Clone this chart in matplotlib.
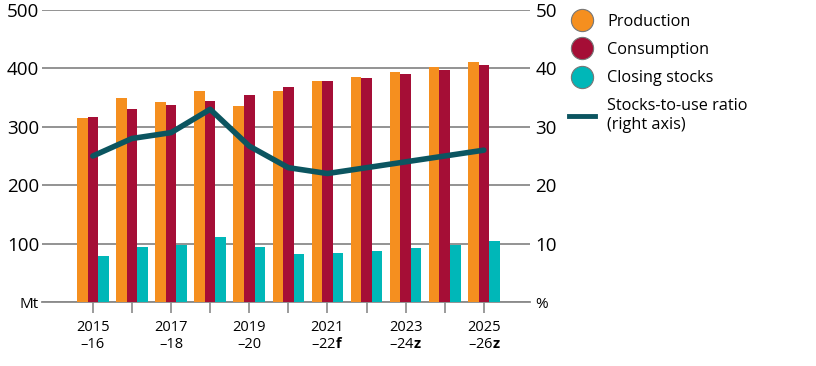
import matplotlib
matplotlib.use("Agg")
import matplotlib.pyplot as plt
from matplotlib.lines import Line2D
import numpy as np

plt.rcParams['font.family'] = ['Open Sans', 'DejaVu Sans']
plt.rcParams['mathtext.fontset'] = 'custom'
plt.rcParams['mathtext.rm'] = 'Open Sans'
plt.rcParams['mathtext.bf'] = 'Open Sans:bold'

# data
years = ['2015\n–16', '2016\n–17', '2017\n–18', '2018\n–19', '2019\n–20', '2020\n–21',
         '2021\n–22$\\mathbf{f}$', '2022\n–23$\\mathbf{z}$', '2023\n–24$\\mathbf{z}$',
         '2024\n–25$\\mathbf{z}$', '2025\n–26$\\mathbf{z}$']
production = [315, 349, 342, 361, 336, 361, 379, 386, 394, 402, 411]
consumption = [316, 331, 338, 344, 354, 369, 378, 383, 390, 397, 405]
closing_stocks = [78, 94, 98, 112, 95, 83, 84, 88, 92, 97, 104]
stocks_to_use = [25, 28, 29, 33, 26.7, 23, 22, 23, 24, 25, 26]

c_prod = '#F58F1F'
c_cons = '#A50E36'
c_stock = '#00B7B8'
c_line = '#0B5560'
c_grid = '#8a8a8a'

fig = plt.figure(figsize=(8.16, 3.66), dpi=100)
ax = fig.add_axes([42 / 816, 64 / 366, 488 / 816, 292 / 366])
ax2 = ax.twinx()

x = np.arange(len(years))
w = 0.27
ax.bar(x - w, production, w, color=c_prod, zorder=3)
ax.bar(x, consumption, w, color=c_cons, zorder=3)
ax.bar(x + w, closing_stocks, w, color=c_stock, zorder=3)

ax.set_ylim(0, 500)
ax.set_xlim(-1.3, 11.18)
ax.set_yticks([0, 100, 200, 300, 400, 500])
ax.set_yticklabels(['Mt', '100', '200', '300', '400', '500'])
ax.yaxis.grid(True, color=c_grid, linewidth=1.3, zorder=0)
ax.set_axisbelow(True)
ax.tick_params(axis='y', length=0, labelsize=13.5, pad=2)
ax.get_yticklabels()[0].set_fontsize(11)

ax.set_xticks(x)
ax.set_xticklabels([y if i % 2 == 0 else '' for i, y in enumerate(years)],
                   fontsize=10.5, linespacing=1.15)
ax.tick_params(axis='x', length=8, color=c_grid, width=1.2, pad=5)
for s in ['top', 'left', 'right']:
    ax.spines[s].set_visible(False)
ax.spines['bottom'].set_color(c_grid)
ax.spines['bottom'].set_linewidth(1.3)

ax2.plot(x, stocks_to_use, color=c_line, linewidth=4, solid_capstyle='round',
         solid_joinstyle='round', zorder=5)
ax2.set_ylim(0, 50)
ax2.set_yticks([0, 10, 20, 30, 40, 50])
ax2.set_yticklabels(['%', '10', '20', '30', '40', '50'])
ax2.tick_params(axis='y', length=0, labelsize=13.5, pad=4)
ax2.get_yticklabels()[0].set_fontsize(11)
for s in ax2.spines.values():
    s.set_visible(False)

handles = [
    Line2D([], [], marker='o', linestyle='none', markersize=16,
           markerfacecolor=c_prod, markeredgecolor='#777777', markeredgewidth=0.8),
    Line2D([], [], marker='o', linestyle='none', markersize=16,
           markerfacecolor=c_cons, markeredgecolor='#777777', markeredgewidth=0.8),
    Line2D([], [], marker='o', linestyle='none', markersize=16,
           markerfacecolor=c_stock, markeredgecolor='#777777', markeredgewidth=0.8),
    Line2D([], [], color=c_line, linewidth=3.5),
]
labels = ['Production', 'Consumption', 'Closing stocks', 'Stocks-to-use ratio\n(right axis)']
fig.legend(handles, labels, loc='upper left', bbox_to_anchor=(555 / 816, 1.0),
           frameon=False, fontsize=11.7, handlelength=1.6, handletextpad=0.75,
           labelspacing=0.75, borderaxespad=0.45)

fig.savefig('out.png', dpi=100)
